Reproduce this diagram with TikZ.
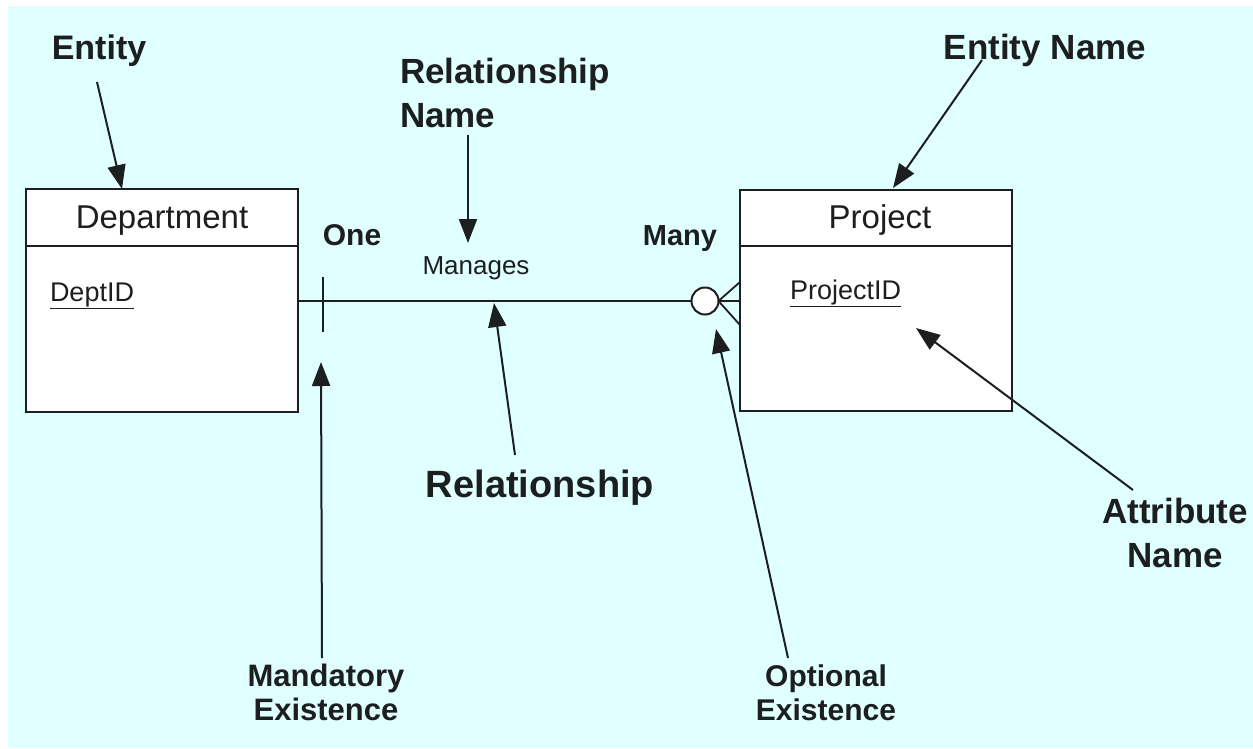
\documentclass[tikz,border=0pt]{standalone}
\usepackage{fontspec}
\setmainfont{Liberation Sans}
\usetikzlibrary{arrows.meta}
\definecolor{paper}{RGB}{224,255,255}
\definecolor{ink}{RGB}{28,30,32}
\begin{document}
\begin{tikzpicture}[x=1pt,y=-1pt,
  every node/.style={text=ink, inner sep=0pt, outer sep=0pt},
  entbox/.style={draw=ink, fill=white, line width=2.6pt, rectangle},
  boxrule/.style={draw=ink, line width=2.6pt},
  relline/.style={draw=ink, line width=2.6pt},
  footline/.style={draw=ink, line width=1.8pt},
  pointer/.style={draw=ink, line width=2pt, -{Triangle[length=24pt,width=18pt]}},
  lbl/.style={font=\bfseries\fontsize{31}{35}\selectfont, align=center, anchor=base},
  title/.style={font=\fontsize{33}{38}\selectfont, anchor=base},
  attr/.style={font=\fontsize{27}{32}\selectfont, anchor=base west}]
\useasboundingbox (0,0) rectangle (1253,748);
\fill[white] (0,0) rectangle (1253,748);
\fill[paper] (8,6) rectangle (1253,748);

% entity boxes
\node[entbox, minimum width=272pt, minimum height=223pt, anchor=north west] (dept) at (26,189) {};
\draw[boxrule] ([yshift=-57pt]dept.north west) -- ([yshift=-57pt]dept.north east);
\node[title] (deptname) at (162,228) {Department};
\node[attr] (deptkey) at (50,301) {\underline{DeptID}};

\node[entbox, minimum width=272pt, minimum height=221pt, anchor=north west] (proj) at (740,190) {};
\draw[boxrule] ([yshift=-56pt]proj.north west) -- ([yshift=-56pt]proj.north east);
\node[title] (projname) at (880,228) {Project};
\node[attr] (projkey) at (790,299) {\underline{ProjectID}};

% relationship with cardinality marks
\node[circle, draw=ink, fill=white, line width=2pt, minimum size=27pt] (opt) at (705,301) {};
\draw[relline] (dept.east |- opt.west) -- (opt.west);
\draw[footline] (opt.east) -- (proj.west |- opt.east);
\draw[footline] (opt.east) -- ([yshift=18.5pt]proj.west);
\draw[footline] (opt.east) -- ([yshift=-24.5pt]proj.west);
\coordinate (onemark) at (323,301);
\draw[footline] ([yshift=24pt]onemark) -- ([yshift=-31pt]onemark);

\node[lbl, font=\bfseries\fontsize{30}{35}\selectfont] (one) at (352,245) {One};
\node[lbl, font=\bfseries\fontsize{29}{35}\selectfont] (many) at (680,245) {Many};
\node[font=\fontsize{26}{30}\selectfont, anchor=base] (verb) at (476,274) {Manages};

% callout labels (base = baseline of the last line)
\node[lbl, font=\bfseries\fontsize{34}{40}\selectfont] (entity) at (99,59) {Entity};
\node[lbl, font=\bfseries\fontsize{35}{40}\selectfont] (entityname) at (1045,59) {Entity Name};
\node[lbl, font=\bfseries\fontsize{35}{44}\selectfont, align=left, anchor=base west] (relname) at (400,127) {Relationship\\Name};
\node[lbl, font=\bfseries\fontsize{38}{44}\selectfont] (rel) at (540,497) {Relationship};
\node[lbl, font=\bfseries\fontsize{31}{34}\selectfont] (mand) at (326,720) {Mandatory\\Existence};
\node[lbl, font=\bfseries\fontsize{30}{34}\selectfont] (optl) at (826,720) {Optional\\Existence};
\node[lbl, font=\bfseries\fontsize{35}{44}\selectfont] (attrname) at (1175,567) {Attribute\\Name};

% callout targets
\coordinate (entTip) at (122,189);
\coordinate (entNameTip) at (893,188);
\coordinate (relNameTip) at (468,243);
\coordinate (relTip) at (494,303);
\coordinate (mandTip) at (321,362);
\coordinate (optTip) at (716,329);
\coordinate (attrTip) at (916,328);

\draw[pointer] ([xshift=-2pt,yshift=-23pt]entity.base) -- (entTip);
\draw[pointer] ([xshift=-63pt,yshift=-1pt]entityname.base) -- (entNameTip);
\draw[pointer] ([xshift=68pt,yshift=-8pt]relname.base west) -- (relNameTip);
\draw[pointer] ([xshift=-25pt,yshift=42pt]rel.base) -- (relTip);
\draw[pointer] ([xshift=-4pt,yshift=62pt]mand.base) -- (mandTip);
\draw[pointer] ([xshift=-38pt,yshift=62pt]optl.base) -- (optTip);
\draw[pointer] ([xshift=-42pt,yshift=77pt]attrname.base) -- (attrTip);
\end{tikzpicture}
\end{document}
